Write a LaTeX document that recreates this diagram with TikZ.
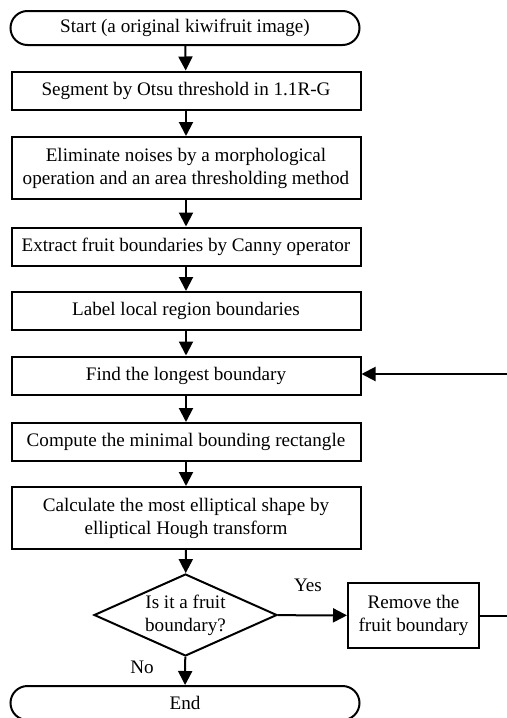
\documentclass[tikz,border=0pt]{standalone}
\usepackage{fontspec}
\setmainfont{Liberation Serif}
\usetikzlibrary{arrows.meta,shapes.geometric}

\begin{document}
\begin{tikzpicture}[x=0.5pt,y=-0.5pt,line width=1pt,
    font=\fontsize{9.56pt}{11.5pt}\selectfont,
    box/.style={rectangle,draw,align=center,inner sep=0pt,minimum width=174.5pt,minimum height=19pt},
    term/.style={box,rounded corners=8.5pt,minimum height=17pt},
    decision/.style={diamond,draw,align=center,inner sep=0pt,aspect=2.23,minimum width=91.5pt,minimum height=41pt},
    arr/.style={-{Triangle[width=7pt,length=7pt]}}]
    \useasboundingbox (0,0) rectangle (507,718);

    \node at (185,28) [term] (start) {Start (a original kiwifruit image)};
    \node at (186,90.5) [box] (seg) {Segment by Otsu threshold in 1.1R-G};
    \node at (186,168) [box,minimum height=31pt] (elim) {Eliminate noises by a morphological\\operation and an area thresholding method};
    \node at (186,246.5) [box] (canny) {Extract fruit boundaries by Canny operator};
    \node at (186,311) [box] (lbl) {Label local region boundaries};
    \node at (186,375.5) [box] (find) {Find the longest boundary};
    \node at (186,442) [box] (rect) {Compute the minimal bounding rectangle};
    \node at (186,518) [box,minimum height=31pt] (hough) {Calculate the most elliptical shape by\\elliptical Hough transform};
    \node at (185.5,615) [decision] (isfruit) {Is it a fruit\\boundary?};
    \node at (413.5,615.5) [box,minimum width=65.5pt,minimum height=32.5pt] (remove) {Remove the\\fruit boundary};
    \node at (185,703) [term] (stop) {End};

    \node at (308,585) (yes) {Yes};
    \node at (142,667) (no) {No};

    \coordinate (loopin) at (507,374);
    \coordinate (loopout) at (507,615.5);

    \draw[arr] (start) -- (seg);
    \draw[arr] (seg) -- (elim);
    \draw[arr] (elim) -- (canny);
    \draw[arr] (canny) -- (lbl);
    \draw[arr] (lbl) -- (find);
    \draw[arr] (find) -- (rect);
    \draw[arr] (rect) -- (hough);
    \draw[arr] (hough) -- (isfruit);
    \draw[arr] (isfruit) -- (stop);
    \draw[arr] (isfruit) -- (remove);
    \draw (remove) -- (loopout);
    \draw[arr] (loopin) -- (find.east |- loopin);
\end{tikzpicture}
\end{document}
